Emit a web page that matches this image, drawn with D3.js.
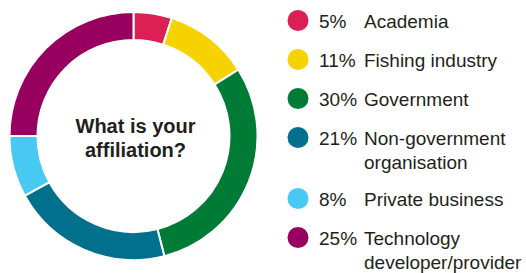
<!DOCTYPE html>
<html>
<head>
<meta charset="utf-8">
<script src="https://cdn.jsdelivr.net/npm/d3@7"></script>
<style>
  body { margin: 0; background: #fff; }
  text { font-family: "Helvetica Neue", Helvetica, "Liberation Sans", Arial, sans-serif; fill: #231f20; }
</style>
</head>
<body>
<script>
// categories and shares (percent), clockwise from 12 o'clock
var categories = ["Academia", "Fishing industry", "Government", "Non-government organisation", "Private business", "Technology developer/provider"];
var shares = [5, 11, 30, 21, 8, 25];
var colours = ["#dc1f55", "#f6d300", "#007b35", "#00708d", "#47c9f4", "#98005f"];
// legend label lines (wrapped as in the original)
var labelLines = [["Academia"], ["Fishing industry"], ["Government"], ["Non-government", "organisation"], ["Private business"], ["Technology", "developer/provider"]];

var W = 526, H = 273;
var svg = d3.select("body").append("svg").attr("width", W).attr("height", H);

var cx = 133.5, cy = 136, outerR = 124, innerR = 96;

var pie = d3.pie().sort(null).value(function(d){ return d; });
var arc = d3.arc().innerRadius(innerR).outerRadius(outerR);

var g = svg.append("g").attr("transform", "translate(" + cx + "," + cy + ")");
g.selectAll("path")
  .data(pie(shares))
  .enter().append("path")
    .attr("d", arc)
    .attr("fill", function(d, i){ return colours[i]; })
    .attr("stroke", "#fff")
    .attr("stroke-width", 2);

// centre question
var q = g.append("text")
  .attr("text-anchor", "middle")
  .style("font-weight", "bold")
  .style("font-size", "20px");
q.append("tspan").attr("x", 2).attr("y", -3).text("What is your");
q.append("tspan").attr("x", 2).attr("y", 21).text("affiliation?");

// legend: rows stack, wrapped labels push the next row down
var rowStep = 39, lineStep = 22;
var rowY = [], y = 20.5;
labelLines.forEach(function(lines){
  rowY.push(y);
  y += rowStep + (lines.length - 1) * lineStep;
});

var rows = svg.append("g").selectAll("g")
  .data(categories)
  .enter().append("g")
    .attr("transform", function(d, i){ return "translate(0," + rowY[i] + ")"; });

rows.append("circle")
  .attr("cx", 298)
  .attr("r", 10.5)
  .attr("fill", function(d, i){ return colours[i]; });

rows.append("text")
  .attr("x", 319)
  .attr("y", 7)
  .style("font-size", "19px")
  .text(function(d, i){ return shares[i] + "%"; });

rows.append("text")
  .attr("x", 364)
  .attr("y", 7)
  .style("font-size", "19px")
  .each(function(d, i){
    var t = d3.select(this);
    labelLines[i].forEach(function(line, k){
      t.append("tspan").attr("x", 364).attr("dy", k === 0 ? 0 : 24).text(line);
    });
  });
</script>
</body>
</html>
